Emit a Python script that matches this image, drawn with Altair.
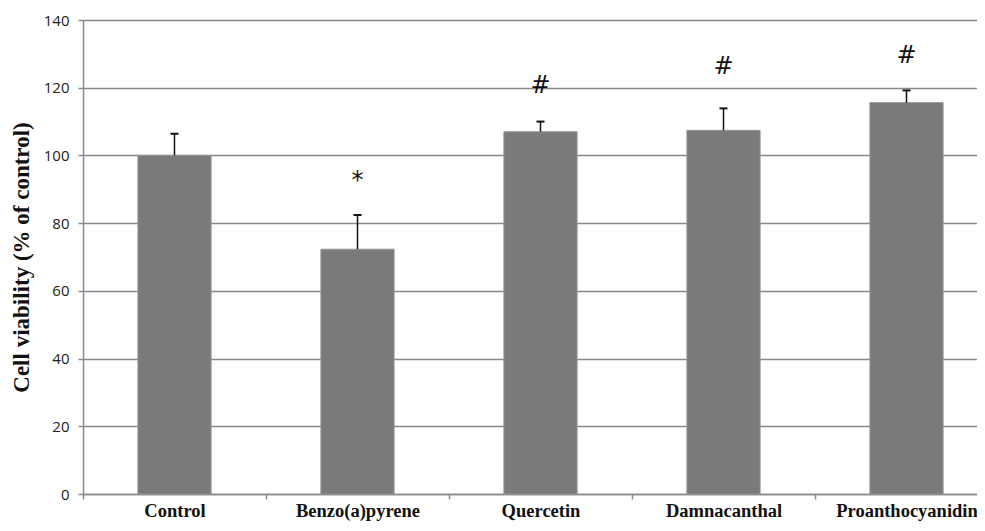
import altair as alt
import pandas as pd

categories = ["Control", "Benzo(a)pyrene", "Quercetin", "Damnacanthal", "Proanthocyanidin"]
means = [100.0, 72.3, 107.0, 107.4, 115.6]
errors = [6.4, 10.1, 3.0, 6.5, 3.6]
symbols = ["", "*", "#", "#", "#"]
symbol_y = [None, 92.5, 120.5, 126.0, 129.4]
y_ticks = [0, 20, 40, 60, 80, 100, 120, 140]

df = pd.DataFrame({
    "cat": categories,
    "idx": list(range(len(categories))),
    "mean": means,
    "err": errors,
    "sym": symbols,
    "sym_y": symbol_y,
})

W, H, STEP = 894, 474, 183
xmax = W / STEP

xscale = alt.Scale(domain=[0, xmax], nice=False, zero=False)
yscale = alt.Scale(domain=[0, 140], nice=False)

cat_js = "[" + ",".join("'" + c + "'" for c in categories) + "]"
x_values = [i * 0.5 for i in range(2 * len(categories))]

x_axis = alt.Axis(
    values=x_values,
    labelExpr=f"datum.value % 1 == 0 ? '' : {cat_js}[floor(datum.value)]",
    tickOpacity={"condition": {"test": "datum.value % 1 == 0", "value": 1}, "value": 0},
    title=None, grid=False,
    domainColor="#8a8a8a", domainWidth=1.5,
    tickColor="#8a8a8a", tickWidth=1.5, tickSize=5,
    labelFont="Liberation Serif", labelFontWeight="bold", labelFontSize=18.5,
    labelColor="#111111", labelPadding=2, labelFlush=False, labelOverlap=False,
)
y_axis = alt.Axis(
    values=y_ticks, title="Cell viability (% of control)",
    grid=True, gridColor="#888888", gridWidth=1.5,
    domainColor="#8a8a8a", domainWidth=1.5,
    tickColor="#8a8a8a", tickWidth=1.5, tickSize=5,
    labelFont="Open Sans", labelFontSize=15, labelColor="#222222", labelPadding=9,
    titleFont="Liberation Serif", titleFontWeight="bold", titleFontSize=23,
    titleColor="#111111", titleX=-62, titleBaseline="middle",
)

base = alt.Chart(df).transform_calculate(
    left="datum.idx + 0.3", right="datum.idx + 0.7", mid="datum.idx + 0.5",
    top="datum.mean + datum.err", capl="datum.idx + 0.478", capr="datum.idx + 0.522",
)

bars = base.mark_bar(color="#7a7a7a", stroke="#969696", strokeWidth=1).encode(
    x=alt.X("left:Q", scale=xscale, axis=x_axis),
    x2="right:Q",
    y=alt.Y("mean:Q", scale=yscale, axis=y_axis),
    y2=alt.datum(0),
)

err_rule = base.mark_rule(color="#111111", strokeWidth=1.5).encode(
    x=alt.X("mid:Q", scale=xscale), y=alt.Y("mean:Q", scale=yscale), y2="top:Q"
)
err_cap = base.mark_rule(color="#111111", strokeWidth=2).encode(
    x=alt.X("capl:Q", scale=xscale), x2="capr:Q", y=alt.Y("top:Q", scale=yscale)
)
sym_text = base.transform_filter("datum.sym != ''").mark_text(
    font="DejaVu Sans", fontSize=24, color="#111111", baseline="middle"
).encode(
    x=alt.X("mid:Q", scale=xscale), y=alt.Y("sym_y:Q", scale=yscale), text="sym:N"
)

chart = alt.layer(bars, err_rule, err_cap, sym_text).properties(
    width=W, height=H,
    autosize=alt.AutoSizeParams(type="none"),
    padding={"left": 75, "top": 12, "right": 0, "bottom": 27},
).configure_view(stroke=None).configure(background="white")

chart.save("out.html", embed_options={"renderer": "svg", "actions": False})
